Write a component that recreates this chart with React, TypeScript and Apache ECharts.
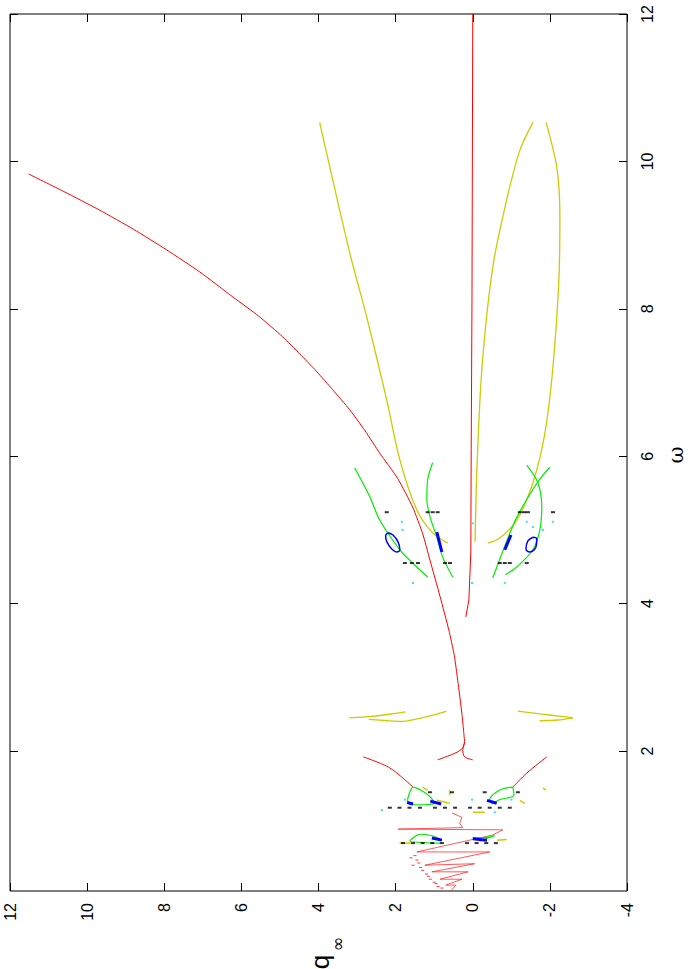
import React, { useEffect, useRef } from "react";
import * as echarts from "echarts";

// axis ticks
const qTicks = [-4, -2, 0, 2, 4, 6, 8, 10, 12];
const wTicks = [2, 4, 6, 8, 10, 12];

// data as [q, omega]
const redMain = [[11.52,9.83],[10.6,9.59],[9.68,9.34],[8.8,9.08],[7.94,8.8],[7.08,8.5],[6.22,8.16],[5.55,7.9],[4.93,7.62],[4.49,7.39],[4.05,7.15],[3.63,6.9],[3.19,6.63],[2.8,6.35],[2.41,6.04],[1.95,5.7],[1.56,5.31],[1.3,4.95],[1.11,4.59],[0.85,4.1],[0.62,3.64],[0.48,3.3],[0.39,2.96],[0.28,2.5],[0.21,2.12]];
const redBranchL = [[0.21,2.12],[0.26,2.04],[0.46,1.97],[0.91,1.88]];
const redBranchR = [[0.21,2.12],[0.26,2.01],[0.21,1.92],[0.0,1.88]];
const redZero = [[0,12],[0.02,8.1],[0.04,6.1],[0.05,4.7],[0.1,4.05],[0.18,3.82]];
const redLowL = [[2.84,1.92],[2.15,1.77],[1.55,1.51]];
const redLowR = [[-1.92,1.92],[-1.4,1.7],[-1.04,1.51]];
const redSpiral = [[0.54,1.16],[0.28,1.1],[0.34,1.02],[0.26,0.96],[1.94,0.94],[-0.78,0.93],[-0.52,0.86],[1.45,0.63],[-0.44,0.63],[1.24,0.45],[-0.05,0.47],[1.06,0.36],[0.12,0.36],[0.85,0.26],[0.28,0.26],[0.7,0.18],[0.44,0.18],[0.57,0.1]];
const redDots = [[1.5,0.58],[1.45,0.52],[1.4,0.48],[1.35,0.42],[1.3,0.38],[1.2,0.33],[1.15,0.3],[1.1,0.26],[1.0,0.22],[0.95,0.2],[0.9,0.16],[0.8,0.14],[1.6,0.55],[1.55,0.45]];

const yelLeft = [[3.97,10.53],[3.19,8.76],[2.75,7.89],[2.23,6.76],[1.89,5.95],[1.45,5.27],[1.04,4.96],[0.65,4.82]];
const yelInner = [[-0.06,4.84],[-0.11,5.85],[-0.24,7.21],[-0.52,8.57],[-0.88,9.48],[-1.22,10.15],[-1.56,10.53]];
const yelOuter = [[-1.9,10.53],[-2.18,9.92],[-2.26,9.25],[-2.23,8.35],[-2.08,7.21],[-1.87,6.31],[-1.56,5.64],[-1.14,5.13],[-0.7,4.89],[-0.39,4.82]];
const yelL1 = [[3.2,2.45],[2.6,2.47],[2.0,2.51],[1.75,2.53]];
const yelL2 = [[2.7,2.43],[2.2,2.41],[1.85,2.4],[1.5,2.43],[1.0,2.49],[0.68,2.54]];
const yelR1 = [[-1.17,2.54],[-1.8,2.5],[-2.3,2.47],[-2.6,2.45]];
const yelR2 = [[-1.74,2.41],[-2.2,2.42],[-2.6,2.45]];
const yelBits = [
  [[1.3,1.51],[1.17,1.47]], [[0.6,1.47],[0.6,1.4]], [[0.93,1.33],[0.6,1.29]],
  [[-1.22,1.33],[-1.35,1.29]], [[-1.82,1.5],[-1.9,1.47]], [[0,1.17],[-0.31,1.17]],
  [[-0.63,0.79],[-0.88,0.8]], [[1.9,0.75],[1.6,0.75]]
];

const greenA = [[3.06,5.84],[2.67,5.45],[2.41,5.13],[1.89,4.73],[1.56,4.55],[1.17,4.36]];
const greenB = [[1.04,5.91],[1.17,5.68],[1.19,5.41],[1.11,5.18],[0.93,4.9],[0.78,4.63],[0.52,4.36]];
const greenC = [[-2.0,5.85],[-1.67,5.64],[-1.15,5.18],[-0.89,4.86],[-0.52,4.35]];
const greenD = [[-1.4,5.88],[-1.69,5.64],[-1.79,5.31],[-1.74,5.0],[-1.56,4.73],[-1.15,4.5],[-0.84,4.39]];
const greenLoopL = [[0.98,1.29],[1.11,1.38],[1.32,1.46],[1.55,1.51],[1.66,1.4],[1.69,1.32],[1.5,1.27],[1.24,1.27],[0.98,1.29]];
const greenLoopR = [[-1.04,1.51],[-0.7,1.47],[-0.44,1.34],[-0.5,1.29],[-0.7,1.34],[-1.07,1.4],[-1.04,1.51]];
const greenLowL = [[0.8,0.79],[1.06,0.85],[1.37,0.87],[1.55,0.82],[1.63,0.78],[0.85,0.75]];
const greenLowR = [[0.0,0.82],[-0.37,0.83],[-0.57,0.85],[-0.18,0.78]];

const blueEllL = [[2.2,4.96],[2.07,4.93],[1.94,4.84],[1.89,4.73],[1.97,4.7],[2.1,4.74],[2.23,4.84],[2.26,4.92],[2.2,4.96]];
const blueEllR = [[-1.56,4.9],[-1.66,4.88],[-1.64,4.77],[-1.48,4.7],[-1.38,4.74],[-1.43,4.85],[-1.56,4.9]];
const blueSegs = [
  [[0.93,4.97],[0.8,4.7]], [[-0.99,4.93],[-0.83,4.73]],
  [[1.7,1.3],[1.55,1.28]], [[1.1,1.32],[0.82,1.28]], [[-0.37,1.33],[-0.62,1.29]],
  [[1.06,0.82],[0.8,0.79]], [[0,0.81],[-0.37,0.79]]
];

const blackDots = [
  [2.23,5.24],[1.17,5.24],[1.04,5.24],[0.91,5.24],[-1.22,5.24],[-1.33,5.24],[-1.43,5.24],[-2.08,5.24],
  [1.76,4.55],[1.58,4.55],[1.42,4.55],[0.72,4.55],[0.59,4.55],[-0.7,4.55],[-0.83,4.55],[-0.96,4.55],[-1.4,4.55],
  [2.15,1.23],[1.9,1.23],[1.64,1.23],[1.37,1.23],[0.98,1.23],[0.72,1.23],[0.46,1.23],[0.07,1.23],[-0.18,1.23],[-0.44,1.23],[-0.7,1.23],[-0.96,1.23],
  [1.11,1.44],[0.54,1.44],[-0.31,1.44],[-1.17,1.44],
  [1.81,0.75],[1.55,0.75],[1.3,0.75],[1.05,0.75],[0.8,0.75],[0.15,0.75],[-0.1,0.75],[-0.35,0.75],[-0.6,0.75]
];
const cyanDots = [[1.84,5.11],[1.82,5.0],[1.55,4.28],[0,5.09],[0.02,4.28],[-0.83,4.28],[-1.4,5.11],[-1.56,5.04],[-1.82,5.0],[-2.08,5.11],[1.76,1.34],[2.36,1.2],[0.02,1.34],[-1.0,1.34],[-0.57,1.17]];

const RED = "#ff0000";
const YEL = "#cccc00";
const GRN = "#00ee00";
const BLU = "#0000ff";

function line(data: number[][], color: string, width = 1, smooth: boolean | number = false) {
  return { type: "line", data, symbol: "none", showSymbol: false, smooth, silent: true,
    lineStyle: { color, width }, itemStyle: { color }, z: 2 };
}
function dots(data: number[][], color: string, size: any) {
  return { type: "scatter", data, symbol: "rect", symbolSize: size, silent: true,
    itemStyle: { color }, z: 3 };
}

export default function App() {
  const ref = useRef<HTMLDivElement>(null);
  useEffect(() => {
    const chart = echarts.init(ref.current!, null, { renderer: "svg" });
    const font = "Liberation Sans";
    const baseX = {
      type: "value", min: -4, max: 12, interval: 2, inverse: true,
      axisLine: { show: false, onZero: false }, splitLine: { show: false },
      axisTick: { show: true, inside: true, length: 8, lineStyle: { color: "#000" } },
    };
    const baseY = {
      type: "value", min: 0.1, max: 12,
      axisLine: { show: false, onZero: false }, splitLine: { show: false },
      axisTick: { show: true, inside: true, length: 8, customValues: wTicks, lineStyle: { color: "#000" } },
    };
    const series: any[] = [
      line(redZero, RED, 1),
      line(redMain, RED, 1, 0.2),
      line(redBranchL, RED, 1, 0.3),
      line(redBranchR, RED, 1, 0.3),
      line(redLowL, RED, 1, 0.3),
      line(redLowR, RED, 1, 0.3),
      line(redSpiral, "#ff3030", 0.8),
      dots(redDots, RED, [3, 1]),
      line(yelLeft, YEL, 1.3, 0.3),
      line(yelInner, YEL, 1.3, 0.3),
      line(yelOuter, YEL, 1.3, 0.3),
      line(yelL1, YEL, 1.3, 0.3),
      line(yelL2, YEL, 1.3, 0.3),
      line(yelR1, YEL, 1.3, 0.3),
      line(yelR2, YEL, 1.3, 0.3),
      ...yelBits.map((d) => line(d, YEL, 1.5)),
      line(greenA, GRN, 1.2, 0.3),
      line(greenB, GRN, 1.2, 0.3),
      line(greenC, GRN, 1.2, 0.3),
      line(greenD, GRN, 1.2, 0.3),
      line(greenLoopL, GRN, 1.2, 0.3),
      line(greenLoopR, GRN, 1.2, 0.3),
      line(greenLowL, GRN, 1.2, 0.3),
      line(greenLowR, GRN, 1.2, 0.3),
      line(blueEllL, BLU, 1.5, 0.4),
      line(blueEllR, BLU, 1.5, 0.4),
      ...blueSegs.map((d) => line(d, BLU, 3)),
      dots(blackDots, "#000", [4, 2]),
      dots(cyanDots, "#00e0e0", [2, 2]),
    ];
    chart.setOption({
      animation: false,
      grid: { left: 10, right: 65, top: 14, bottom: 78, show: true, borderColor: "#000", borderWidth: 1, backgroundColor: "transparent" },
      xAxis: [
        { ...baseX, position: "bottom",
          axisLabel: { show: true, rotate: 90, margin: 12, fontSize: 16, fontFamily: font, color: "#000",
            customValues: qTicks, showMinLabel: true, showMaxLabel: true } },
        { ...baseX, position: "top", axisLabel: { show: false } },
      ],
      yAxis: [
        { ...baseY, position: "right",
          axisLabel: { show: true, rotate: 90, margin: 12, fontSize: 16, fontFamily: font, color: "#000",
            customValues: wTicks } },
        { ...baseY, position: "left", axisLabel: { show: false } },
      ],
      graphic: [
        { type: "text", x: 320, y: 962, rotation: Math.PI / 2,
          style: { text: "q", font: "26px 'Liberation Sans'", fill: "#000", align: "center", verticalAlign: "middle" } },
        { type: "text", x: 337, y: 944, rotation: Math.PI / 2,
          style: { text: "∞", font: "18px 'DejaVu Sans'", fill: "#000", align: "center", verticalAlign: "middle" } },
        { type: "text", x: 676, y: 455, rotation: Math.PI / 2,
          style: { text: "ω", font: "21px 'DejaVu Serif'", fill: "#000", align: "center", verticalAlign: "middle" } },
      ],
      series,
    });
    return () => chart.dispose();
  }, []);
  return <div ref={ref} style={{ position: "fixed", left: 0, top: 0, width: 692, height: 969, background: "#fff" }} />;
}
